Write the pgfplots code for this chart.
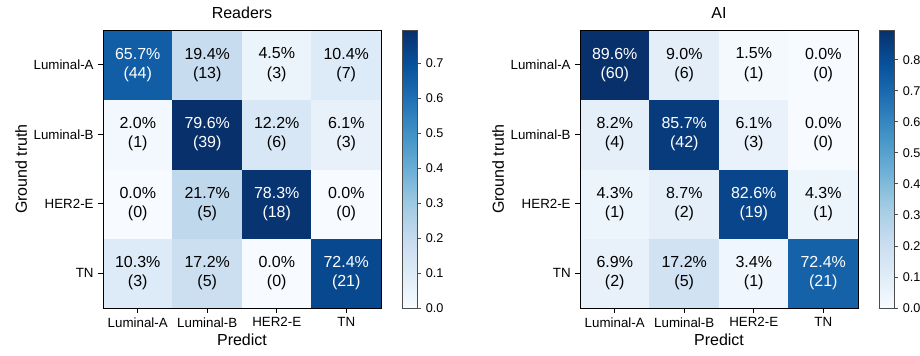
\documentclass[border=0pt]{standalone}
\usepackage{fontspec}
\setmainfont{Liberation Sans}
\usepackage{pgfplots}
\usepackage{pgfplotstable}
\pgfplotsset{compat=1.18}

% rows: y=3 Luminal-A ... y=0 TN ; columns: x=0 Luminal-A ... x=3 TN
% w = 1 marks the dark cells, whose text is white
\pgfplotstableread{
x y c pct n w
0 0 0.1034 10.3 3 0
1 0 0.1724 17.2 5 0
2 0 0.0000 0.0 0 0
3 0 0.7241 72.4 21 1
0 1 0.0000 0.0 0 0
1 1 0.2174 21.7 5 0
2 1 0.7826 78.3 18 1
3 1 0.0000 0.0 0 0
0 2 0.0204 2.0 1 0
1 2 0.7959 79.6 39 1
2 2 0.1224 12.2 6 0
3 2 0.0612 6.1 3 0
0 3 0.6567 65.7 44 1
1 3 0.1940 19.4 13 0
2 3 0.0448 4.5 3 0
3 3 0.1045 10.4 7 0
}\readers

\pgfplotstableread{
x y c pct n w
0 0 0.0690 6.9 2 0
1 0 0.1724 17.2 5 0
2 0 0.0345 3.4 1 0
3 0 0.7241 72.4 21 1
0 1 0.0435 4.3 1 0
1 1 0.0870 8.7 2 0
2 1 0.8261 82.6 19 1
3 1 0.0435 4.3 1 0
0 2 0.0816 8.2 4 0
1 2 0.8571 85.7 42 1
2 2 0.0612 6.1 3 0
3 2 0.0000 0.0 0 0
0 3 0.8955 89.6 60 1
1 3 0.0896 9.0 6 0
2 3 0.0149 1.5 1 0
3 3 0.0000 0.0 0 0
}\ai

\newcommand\cellfg{\ifdim\wht pt>0.5pt\relax\color{white}\fi}

\pgfplotsset{
  colormap={blues}{rgb255=(247,251,255) rgb255=(222,235,247) rgb255=(198,219,239)
    rgb255=(158,202,225) rgb255=(107,174,214) rgb255=(66,146,198)
    rgb255=(33,113,181) rgb255=(8,81,156) rgb255=(8,48,107)},
  confmat/.style={
    scale only axis, width=208.5pt, height=208.5pt,
    xmin=-0.5, xmax=3.5, ymin=-0.5, ymax=3.5,
    xtick={0,1,2,3}, ytick={0,1,2,3},
    xticklabels={Luminal-A,Luminal-B,HER2-E,TN},
    yticklabels={TN,HER2-E,Luminal-B,Luminal-A},
    tick align=outside, xtick pos=left, ytick pos=left,
    major tick length=3.5pt,
    axis line style={line width=0.6pt},
    tick style={line width=0.6pt, black},
    tick label style={font=\fontsize{10}{12}\selectfont},
    label style={font=\fontsize{12}{14}\selectfont},
    title style={font=\fontsize{12}{14}\selectfont, yshift=-1pt},
    xlabel={Predict}, ylabel={Ground truth},
    xlabel style={yshift=2pt},
    ylabel style={yshift=-2pt},
    colormap name=blues, colorbar, point meta min=0,
    axis on top,
    colorbar style={
      scale only axis, width=11pt, height=208.5pt,
      at={(parent axis.north east)}, anchor=north west, xshift=7.5pt,
      axis line style={line width=0.6pt, black!70},
      tick align=outside, ytick pos=right, major tick length=3pt,
      tick style={line width=0.6pt, black!70},
      yticklabel style={font=\fontsize{9.5}{11}\selectfont,
        /pgf/number format/.cd, fixed, fixed zerofill, precision=1,
        assume math mode=true},
    },
  },
  cells/.style={matrix plot*, mesh/cols=4, point meta=explicit},
  celltext/.style={only marks, mark=none, point meta=explicit,
    visualization depends on={\thisrow{pct}\as\pct},
    visualization depends on={\thisrow{n}\as\cnt},
    visualization depends on={\thisrow{w}\as\wht},
    nodes near coords={\cellfg\pgfmathprintnumber[fixed, fixed zerofill,
        precision=1, assume math mode=true]{\pct}\%\\\cellfg(\pgfmathprintnumber[fixed,
        precision=0, assume math mode=true]{\cnt})},
    nodes near coords align=center,
    every node near coord/.append style={align=center, inner sep=0pt,
      font=\fontsize{12}{14.5}\selectfont},
  },
}

\begin{document}
\begin{tikzpicture}
\path[use as bounding box] (0,0) rectangle (690pt,267pt);

\begin{axis}[confmat, at={(77.25pt,36pt)}, anchor=south west,
  title={Readers}, point meta max=0.7959,
  colorbar style={ytick={0,0.1,0.2,0.3,0.4,0.5,0.6,0.7}}]
  \addplot[cells] table[meta=c] {\readers};
  \addplot[celltext] table[meta=c] {\readers};
\end{axis}

\begin{axis}[confmat, at={(435pt,36pt)}, anchor=south west,
  title={AI}, point meta max=0.8955,
  colorbar style={ytick={0,0.1,0.2,0.3,0.4,0.5,0.6,0.7,0.8}}]
  \addplot[cells] table[meta=c] {\ai};
  \addplot[celltext] table[meta=c] {\ai};
\end{axis}
\end{tikzpicture}
\end{document}
